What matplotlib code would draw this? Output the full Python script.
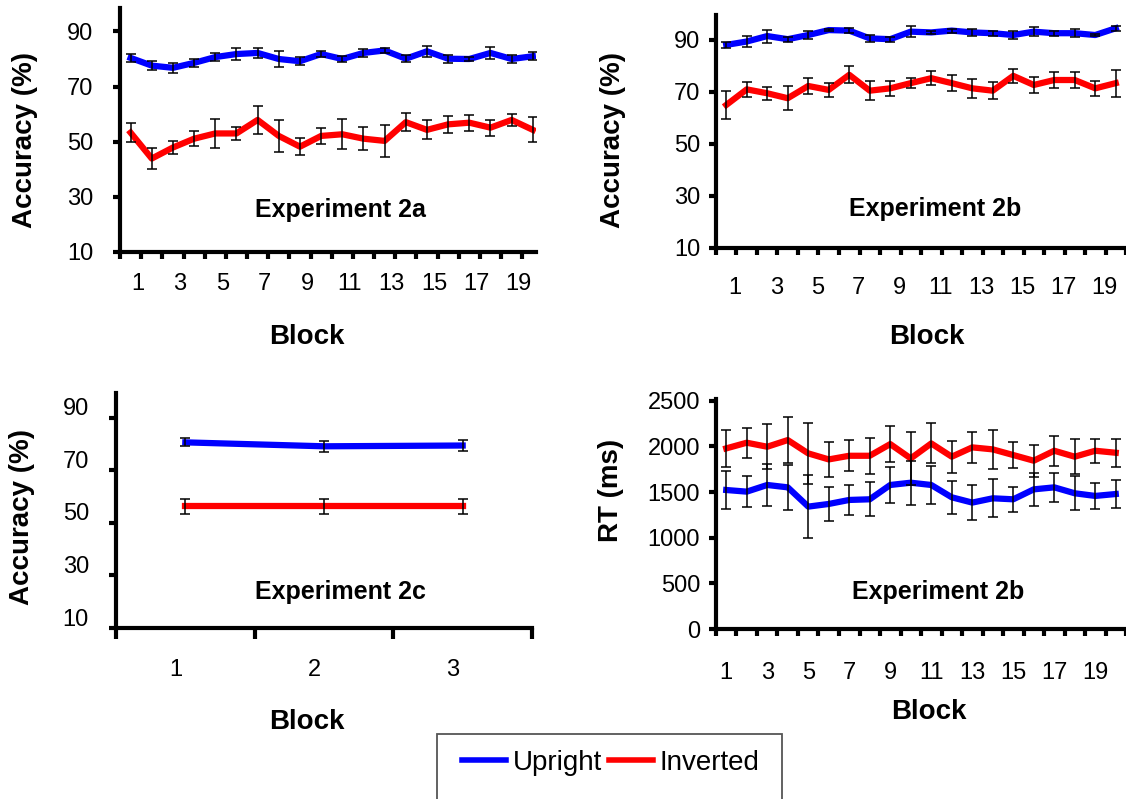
import numpy as np
import matplotlib
matplotlib.use("Agg")
import matplotlib.pyplot as plt
from matplotlib.transforms import ScaledTranslation
from matplotlib.patches import Rectangle
from matplotlib.lines import Line2D

plt.rcParams['font.family'] = ['Liberation Sans', 'DejaVu Sans']

# data
blocks = np.arange(1, 21)
blocks_2c = np.arange(1, 4)
odd_labels = [str(b) for b in range(1, 20, 2)]

# Experiment 2a accuracy (%)
acc2a_upright = [80.4, 77.6, 76.8, 78.6, 80.7, 81.8, 82.2, 80.0, 79.2, 81.8,
                 80.0, 82.2, 83.1, 80.1, 82.8, 80.1, 80.0, 82.2, 80.0, 81.0]
acc2a_upright_err = [1.4, 1.5, 1.8, 1.5, 1.3, 2.3, 1.8, 3.0, 1.5, 1.2,
                     1.0, 1.3, 1.0, 1.3, 2.0, 1.5, 0.8, 2.3, 1.5, 1.5]
acc2a_inverted = [53.3, 43.9, 47.9, 51.1, 53.0, 53.0, 57.9, 52.1, 48.2, 52.1,
                  52.7, 51.1, 50.3, 57.1, 54.3, 56.3, 56.9, 55.1, 57.9, 54.3]
acc2a_inverted_err = [3.5, 3.8, 2.5, 2.8, 5.4, 2.3, 5.0, 5.8, 3.0, 3.0,
                      5.4, 4.2, 5.8, 3.3, 3.4, 3.0, 2.9, 2.9, 2.3, 4.5]

# Experiment 2b accuracy (%)
acc2b_upright = [88.1, 89.4, 91.5, 90.3, 91.9, 93.8, 93.6, 90.6, 90.3, 93.2,
                 92.9, 93.6, 92.9, 92.6, 91.9, 93.2, 92.6, 92.6, 91.9, 94.5]
acc2b_upright_err = [1.0, 2.0, 2.5, 1.0, 1.5, 0.5, 1.0, 1.5, 1.0, 2.0,
                     0.5, 0.8, 1.5, 1.0, 1.5, 1.8, 1.0, 1.5, 0.5, 1.0]
acc2b_inverted = [65.0, 71.0, 69.5, 67.6, 72.3, 70.8, 76.6, 70.5, 71.4, 73.4,
                  75.3, 73.4, 71.4, 70.5, 76.2, 72.7, 74.6, 74.6, 71.4, 73.4]
acc2b_inverted_err = [5.4, 3.0, 2.4, 4.7, 3.0, 2.7, 3.2, 3.6, 3.0, 2.0,
                      2.7, 3.0, 3.6, 3.3, 2.6, 3.2, 3.2, 3.2, 3.0, 5.2]

# Experiment 2c accuracy (%)
acc2c_upright = [80.7, 79.2, 79.5]
acc2c_upright_err = [1.5, 2.0, 2.0]
acc2c_inverted = [56.3, 56.3, 56.3]
acc2c_inverted_err = [2.7, 2.7, 2.7]

# Experiment 2b reaction time (ms)
rt2b_upright = [1523, 1505, 1578, 1552, 1341, 1370, 1414, 1421, 1578, 1603,
                1578, 1443, 1385, 1432, 1421, 1530, 1552, 1487, 1458, 1479]
rt2b_upright_err = [210, 169, 233, 244, 343, 188, 169, 188, 200, 242,
                    210, 179, 188, 208, 138, 179, 160, 188, 142, 149]
rt2b_inverted = [1979, 2041, 1997, 2070, 1924, 1858, 1898, 1898, 2026, 1869,
                 2033, 1888, 1990, 1968, 1906, 1844, 1953, 1888, 1953, 1931]
rt2b_inverted_err = [204, 164, 246, 250, 337, 190, 169, 200, 200, 288,
                     219, 177, 168, 210, 140, 177, 164, 195, 133, 151]

W, H = 1126, 799
fig = plt.figure(figsize=(W / 100, H / 100), dpi=100)


def px_axes(left, right, top, bottom):
    return fig.add_axes([left / W, 1 - bottom / H, (right - left) / W, (bottom - top) / H])


def shift_labels(labels, dx, dy):
    off = ScaledTranslation(dx / 100, dy / 100, fig.dpi_scale_trans)
    for t in labels:
        t.set_transform(t.get_transform() + off)


def draw(ax, x, up, up_err, inv, inv_err):
    for y, e, c in ((up, up_err, '#0000ff'), (inv, inv_err, '#ff0000')):
        ax.errorbar(x, y, yerr=e, color=c, lw=4.5, ecolor='black', elinewidth=1.1,
                    capsize=3.8, capthick=1.1, barsabove=True)


def style(ax, ylim, yticks, ypad, xpad, minor_len=5):
    for s in ('top', 'right'):
        ax.spines[s].set_visible(False)
    for s in ('left', 'bottom'):
        ax.spines[s].set_linewidth(3)
    ax.set_ylim(*ylim)
    ax.set_yticks(yticks)
    ax.tick_params(axis='y', direction='out', length=5, width=3, labelsize=17, pad=ypad)
    ax.tick_params(axis='x', which='major', length=0, labelsize=17, pad=xpad)
    ax.tick_params(axis='x', which='minor', direction='out', length=minor_len, width=3)


# Experiment 2a
ax1 = px_axes(120, 536, 8, 252)
draw(ax1, blocks, acc2a_upright, acc2a_upright_err, acc2a_inverted, acc2a_inverted_err)
ax1.set_xlim(0.5, 20.15)
ax1.set_xticks(range(1, 20, 2), odd_labels)
ax1.set_xticks(np.arange(0.5, 20.5, 1), minor=True)
style(ax1, (10, 98.5), [10, 30, 50, 70, 90], 14, 15)
ax1.set_ylabel('Accuracy (%)', fontsize=20, fontweight='bold', va='center')
ax1.yaxis.set_label_coords(-0.228, 0.459)
ax1.set_xlabel('Block', fontsize=20, fontweight='bold', va='center')
ax1.xaxis.set_label_coords(0.45, -0.348)
ax1.text(0.531, 0.172, 'Experiment 2a', transform=ax1.transAxes, ha='center', va='center',
         fontsize=18, fontweight='bold')
shift_labels(ax1.get_xticklabels(), 7, 0)

# Experiment 2b accuracy
ax2 = px_axes(716, 1126, 15, 248)
draw(ax2, blocks, acc2b_upright, acc2b_upright_err, acc2b_inverted, acc2b_inverted_err)
ax2.set_xlim(0.5, 20.5)
ax2.set_xticks(range(1, 20, 2), odd_labels)
ax2.set_xticks(np.arange(0.5, 21, 1), minor=True)
style(ax2, (10, 99.6), [10, 30, 50, 70, 90], 6.5, 21)
ax2.set_ylabel('Accuracy (%)', fontsize=20, fontweight='bold', va='center')
ax2.yaxis.set_label_coords(-0.251, 0.4635)
ax2.set_xlabel('Block', fontsize=20, fontweight='bold', va='center')
ax2.xaxis.set_label_coords(0.515, -0.382)
ax2.text(0.534, 0.167, 'Experiment 2b', transform=ax2.transAxes, ha='center', va='center',
         fontsize=18, fontweight='bold')
shift_labels(ax2.get_xticklabels(), 9, 0)

# Experiment 2c
ax3 = px_axes(116, 532, 393, 628)
draw(ax3, blocks_2c, acc2c_upright, acc2c_upright_err, acc2c_inverted, acc2c_inverted_err)
ax3.set_xlim(0.5, 3.5)
ax3.set_xticks(blocks_2c, [str(b) for b in blocks_2c])
ax3.set_xticks([0.5, 1.5, 2.5, 3.5], minor=True)
style(ax3, (10, 99.5), [10, 30, 50, 70, 90], 14.5, 22, minor_len=8)
ax3.set_ylabel('Accuracy (%)', fontsize=20, fontweight='bold', va='center')
ax3.yaxis.set_label_coords(-0.226, 0.472)
ax3.set_xlabel('Block', fontsize=20, fontweight='bold', va='center')
ax3.xaxis.set_label_coords(0.459, -0.40)
ax3.text(0.54, 0.153, 'Experiment 2c', transform=ax3.transAxes, ha='center', va='center',
         fontsize=18, fontweight='bold')
shift_labels(ax3.get_xticklabels(), -10, 0)
shift_labels(ax3.get_yticklabels(), 0, 11)

# Experiment 2b reaction times
ax4 = px_axes(716, 1126, 399, 629)
draw(ax4, blocks, rt2b_upright, rt2b_upright_err, rt2b_inverted, rt2b_inverted_err)
ax4.set_xlim(0.5, 20.37)
ax4.set_xticks(range(1, 20, 2), odd_labels)
ax4.set_xticks(np.arange(0.5, 21, 1), minor=True)
style(ax4, (0, 2520), [0, 500, 1000, 1500, 2000, 2500], 6.5, 23.5)
ax4.set_ylabel('RT (ms)', fontsize=20, fontweight='bold', va='center')
ax4.yaxis.set_label_coords(-0.256, 0.604)
ax4.set_xlabel('Block', fontsize=20, fontweight='bold', va='center')
ax4.xaxis.set_label_coords(0.52, -0.361)
ax4.text(0.541, 0.16, 'Experiment 2b', transform=ax4.transAxes, ha='center', va='center',
         fontsize=18, fontweight='bold')

# legend with a frame that runs off the bottom edge
fig.add_artist(Rectangle((437 / W, 1 - 840 / H), (782 - 437) / W, (840 - 734) / H,
                         transform=fig.transFigure, facecolor='none', edgecolor='#555555',
                         linewidth=1.3, clip_on=False))
handles = [Line2D([], [], color='#0000ff', lw=4), Line2D([], [], color='#ff0000', lw=4)]
fig.legend(handles, ['Upright', 'Inverted'], loc='center left',
           bbox_to_anchor=(462 / W, 1 - 763 / H), ncol=2, frameon=False, fontsize=20,
           handlelength=1.6, handletextpad=0.22, columnspacing=0.25,
           borderpad=0, borderaxespad=0)

fig.savefig('out.png', dpi=100)
